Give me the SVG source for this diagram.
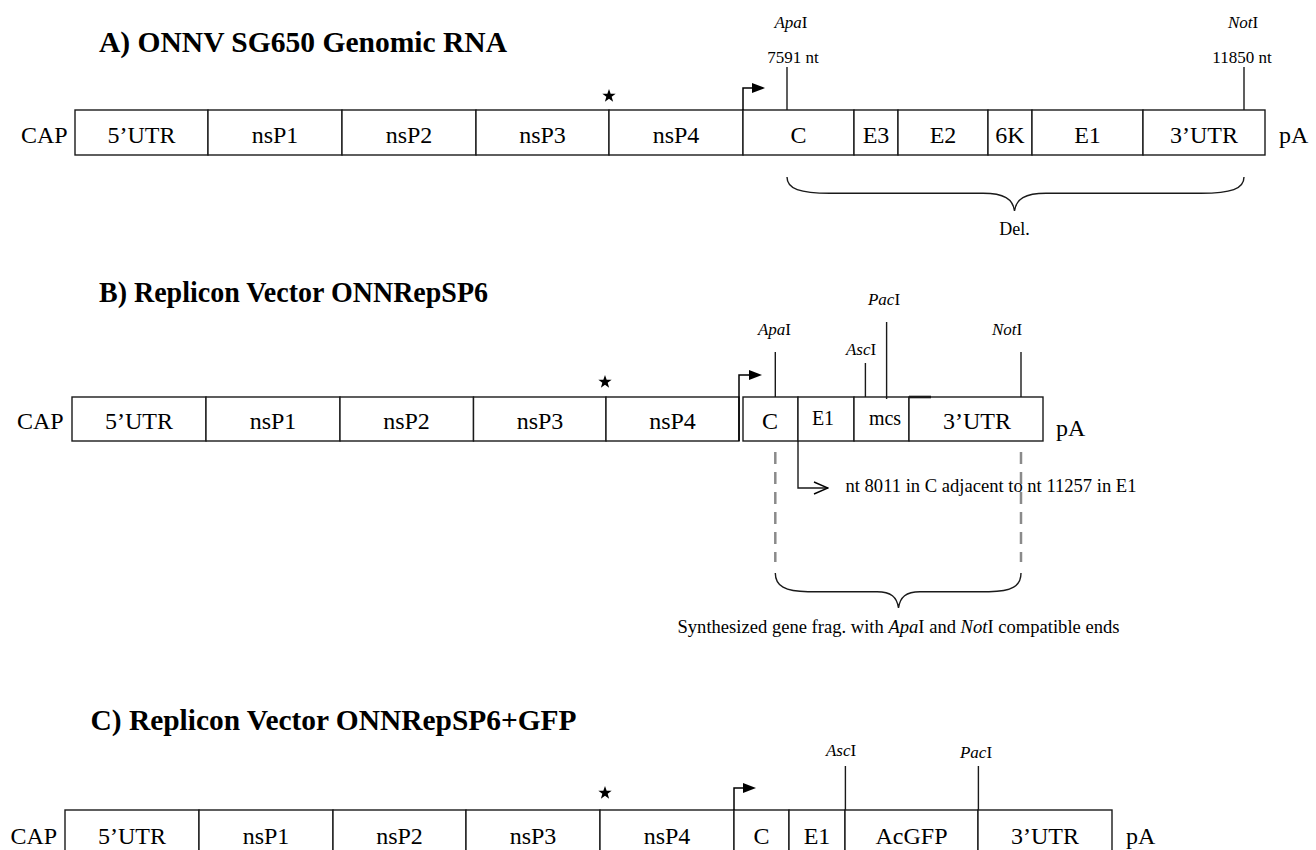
<svg xmlns="http://www.w3.org/2000/svg" width="1316" height="850" viewBox="0 0 1316 850">
  <defs>
    <style>
      text { font-family: "Liberation Serif", "Times New Roman", serif; fill: #000; }
      .title { font-size: 29px; font-weight: bold; }
      .seg rect { fill: #fff; stroke: #1a1a1a; stroke-width: 1.4; }
      .seg text { font-size: 24px; text-anchor: middle; }
      .seg text.sm { font-size: 20px; }
      .end { font-size: 24px; }
      .site { font-size: 17px; text-anchor: middle; }
      .tick { stroke: #1a1a1a; stroke-width: 1.4; fill: none; }
      .promo { stroke: #000; stroke-width: 1.5; fill: none; marker-end: url(#promoHead); }
      .brace { stroke: #1a1a1a; stroke-width: 1.4; fill: none; }
      .dash { stroke: #8a8a8a; stroke-width: 2.5; stroke-dasharray: 12 8; fill: none; }
      .join { stroke: #1a1a1a; stroke-width: 1.4; fill: none; marker-end: url(#openHead); }
      .note { font-size: 18px; }
    </style>
    <marker id="promoHead" markerUnits="userSpaceOnUse" markerWidth="13" markerHeight="10" refX="0" refY="5" orient="auto">
      <path d="M0,0 L13,5 L0,10 Z" fill="#000"/>
    </marker>
    <marker id="openHead" markerUnits="userSpaceOnUse" markerWidth="16" markerHeight="16" refX="15" refY="7" orient="auto">
      <path d="M1,1 L15,7 L1,13" fill="none" stroke="#000" stroke-width="1.4"/>
    </marker>
    <path id="star" d="M0,-7 L1.65,-2.27 L6.66,-2.16 L2.66,0.87 L4.11,5.66 L0,2.8 L-4.11,5.66 L-2.66,0.87 L-6.66,-2.16 L-1.65,-2.27 Z" fill="#000"/>
  </defs>

  <rect width="1316" height="850" fill="#fff"/>

  <!-- ===== A) genomic RNA ===== -->
  <text class="title" x="99" y="52" textLength="408" lengthAdjust="spacingAndGlyphs">A) ONNV SG650 Genomic RNA</text>
  <text class="end" x="21" y="143">CAP</text>
  <g id="a-5utr" class="seg"><rect x="75" y="110" width="133" height="45"/><text x="141.5" y="143">5’UTR</text></g>
  <g id="a-nsp1" class="seg"><rect x="208" y="110" width="134" height="45"/><text x="275" y="143">nsP1</text></g>
  <g id="a-nsp2" class="seg"><rect x="342" y="110" width="134" height="45"/><text x="409" y="143">nsP2</text></g>
  <g id="a-nsp3" class="seg"><rect x="476" y="110" width="133" height="45"/><text x="542.5" y="143">nsP3</text></g>
  <g id="a-nsp4" class="seg"><rect x="609" y="110" width="134" height="45"/><text x="676" y="143">nsP4</text></g>
  <g id="a-c" class="seg"><rect x="743" y="110" width="111" height="45"/><text x="798.5" y="143">C</text></g>
  <g id="a-e3" class="seg"><rect x="854" y="110" width="44" height="45"/><text x="876" y="143">E3</text></g>
  <g id="a-e2" class="seg"><rect x="898" y="110" width="90" height="45"/><text x="943" y="143">E2</text></g>
  <g id="a-6k" class="seg"><rect x="988" y="110" width="44" height="45"/><text x="1010" y="143">6K</text></g>
  <g id="a-e1" class="seg"><rect x="1032" y="110" width="111" height="45"/><text x="1087.5" y="143">E1</text></g>
  <g id="a-3utr" class="seg"><rect x="1143" y="110" width="122" height="45"/><text x="1204" y="143">3’UTR</text></g>
  <text class="end" x="1279" y="143">pA</text>
  <use href="#star" x="609" y="96"/>

  <g id="a-apa">
    <text class="site" x="791" y="28"><tspan font-style="italic">Apa</tspan>I</text>
    <text class="site" x="793" y="63">7591 nt</text>
  </g>
  <g id="a-not">
    <text class="site" x="1243" y="28"><tspan font-style="italic">Not</tspan>I</text>
    <text class="site" x="1242" y="63">11850 nt</text>
  </g>
  <text class="site" x="1014.5" y="235" style="font-size:18px">Del.</text>

  <!-- ===== B) replicon vector ===== -->
  <text class="title" x="99" y="302" textLength="389" lengthAdjust="spacingAndGlyphs">B) Replicon Vector ONNRepSP6</text>
  <text class="end" x="17" y="429">CAP</text>
  <g id="b-5utr" class="seg"><rect x="72" y="397" width="134" height="44"/><text x="139" y="429">5’UTR</text></g>
  <g id="b-nsp1" class="seg"><rect x="206" y="397" width="134" height="44"/><text x="273" y="429">nsP1</text></g>
  <g id="b-nsp2" class="seg"><rect x="340" y="397" width="133.5" height="44"/><text x="406.5" y="429">nsP2</text></g>
  <g id="b-nsp3" class="seg"><rect x="473.5" y="397" width="132.5" height="44"/><text x="540" y="429">nsP3</text></g>
  <g id="b-nsp4" class="seg"><rect x="606" y="397" width="133" height="44"/><text x="672.5" y="429">nsP4</text></g>
  <g id="b-c" class="seg"><rect x="743" y="397" width="55" height="44"/><text x="770" y="429">C</text></g>
  <g id="b-e1" class="seg"><rect x="798" y="397" width="56" height="44"/><text class="sm" x="823" y="425">E1</text></g>
  <g id="b-mcs" class="seg"><rect x="854" y="397" width="55" height="44"/><text class="sm" x="885" y="425">mcs</text></g>
  <g id="b-3utr" class="seg"><rect x="909" y="397" width="134" height="44"/><text x="977" y="429">3’UTR</text>
    <path d="M909,397 H931" stroke="#1a1a1a" stroke-width="2.6"/></g>
  <text class="end" x="1056" y="436">pA</text>
  <use href="#star" x="605" y="382"/>

  <g id="b-apa"><text class="site" x="774.5" y="335"><tspan font-style="italic">Apa</tspan>I</text></g>
  <g id="b-asc"><text class="site" x="861" y="355"><tspan font-style="italic">Asc</tspan>I</text></g>
  <g id="b-pac"><text class="site" x="884" y="305"><tspan font-style="italic">Pac</tspan>I</text></g>
  <g id="b-not"><text class="site" x="1007" y="335"><tspan font-style="italic">Not</tspan>I</text></g>

  <text class="note" x="845.5" y="492" textLength="291" lengthAdjust="spacingAndGlyphs">nt 8011 in C adjacent to nt 11257 in E1</text>
  <text class="note" x="677.5" y="633" textLength="442" lengthAdjust="spacingAndGlyphs">Synthesized gene frag. with <tspan font-style="italic">Apa</tspan>I and <tspan font-style="italic">Not</tspan>I compatible ends</text>

  <!-- ===== C) replicon vector with GFP ===== -->
  <text class="title" x="90.5" y="730" textLength="486" lengthAdjust="spacingAndGlyphs">C) Replicon Vector ONNRepSP6+GFP</text>
  <text class="end" x="10.5" y="844">CAP</text>
  <g id="c-5utr" class="seg"><rect x="65" y="810" width="134" height="45"/><text x="132" y="844">5’UTR</text></g>
  <g id="c-nsp1" class="seg"><rect x="199" y="810" width="134" height="45"/><text x="266" y="844">nsP1</text></g>
  <g id="c-nsp2" class="seg"><rect x="333" y="810" width="133" height="45"/><text x="399.5" y="844">nsP2</text></g>
  <g id="c-nsp3" class="seg"><rect x="466" y="810" width="134" height="45"/><text x="533" y="844">nsP3</text></g>
  <g id="c-nsp4" class="seg"><rect x="600" y="810" width="134" height="45"/><text x="667" y="844">nsP4</text></g>
  <g id="c-c" class="seg"><rect x="734" y="810" width="55" height="45"/><text x="761.5" y="844">C</text></g>
  <g id="c-e1" class="seg"><rect x="789" y="810" width="56" height="45"/><text x="817" y="844">E1</text></g>
  <g id="c-acgfp" class="seg"><rect x="845" y="810" width="133" height="45"/><text x="911.5" y="844">AcGFP</text></g>
  <g id="c-3utr" class="seg"><rect x="978" y="810" width="134" height="45"/><text x="1045" y="844">3’UTR</text></g>
  <text class="end" x="1126" y="844">pA</text>
  <use href="#star" x="605" y="793"/>

  <g id="c-asc"><text class="site" x="841" y="756"><tspan font-style="italic">Asc</tspan>I</text></g>
  <g id="c-pac"><text class="site" x="976" y="758"><tspan font-style="italic">Pac</tspan>I</text></g>

  <!-- connectors: site ticks, promoter arrows, braces, guides -->
  <g id="connectors">
    <path class="tick" d="M787,67 V110"/>
    <path class="tick" d="M1244,67 V110"/>
    <path class="promo" d="M743,110 V88 H752"/>
    <path class="brace" d="M787,177 C787,189 800,193.3 830,193.3 L983,193.3 C1004,193.3 1013,199 1014.5,211 C1016,199 1025,193.3 1046,193.3 L1201,193.3 C1231,193.3 1244,189 1244,177"/>

    <path class="tick" d="M775.3,352 V397"/>
    <path class="tick" d="M865.4,363 V397"/>
    <path class="tick" d="M886.6,322 V399"/>
    <path class="tick" d="M1021,352 V397"/>
    <path class="promo" d="M739,441 V375 H749"/>
    <path class="join" d="M798,441 V488 H828"/>
    <path class="dash" d="M775.3,452 V562"/>
    <path class="dash" d="M1021,452 V562"/>
    <path class="brace" d="M775.3,573 C775.3,586 785,591.7 808,591.7 L877,591.7 C891,591.7 897,597 898.5,608 C900,597 906,591.7 920,591.7 L989,591.7 C1012,591.7 1021,586 1021,573"/>

    <path class="tick" d="M845.4,766 V810"/>
    <path class="tick" d="M978.4,766 V810"/>
    <path class="promo" d="M734,810 V788 H743"/>
  </g>
</svg>
